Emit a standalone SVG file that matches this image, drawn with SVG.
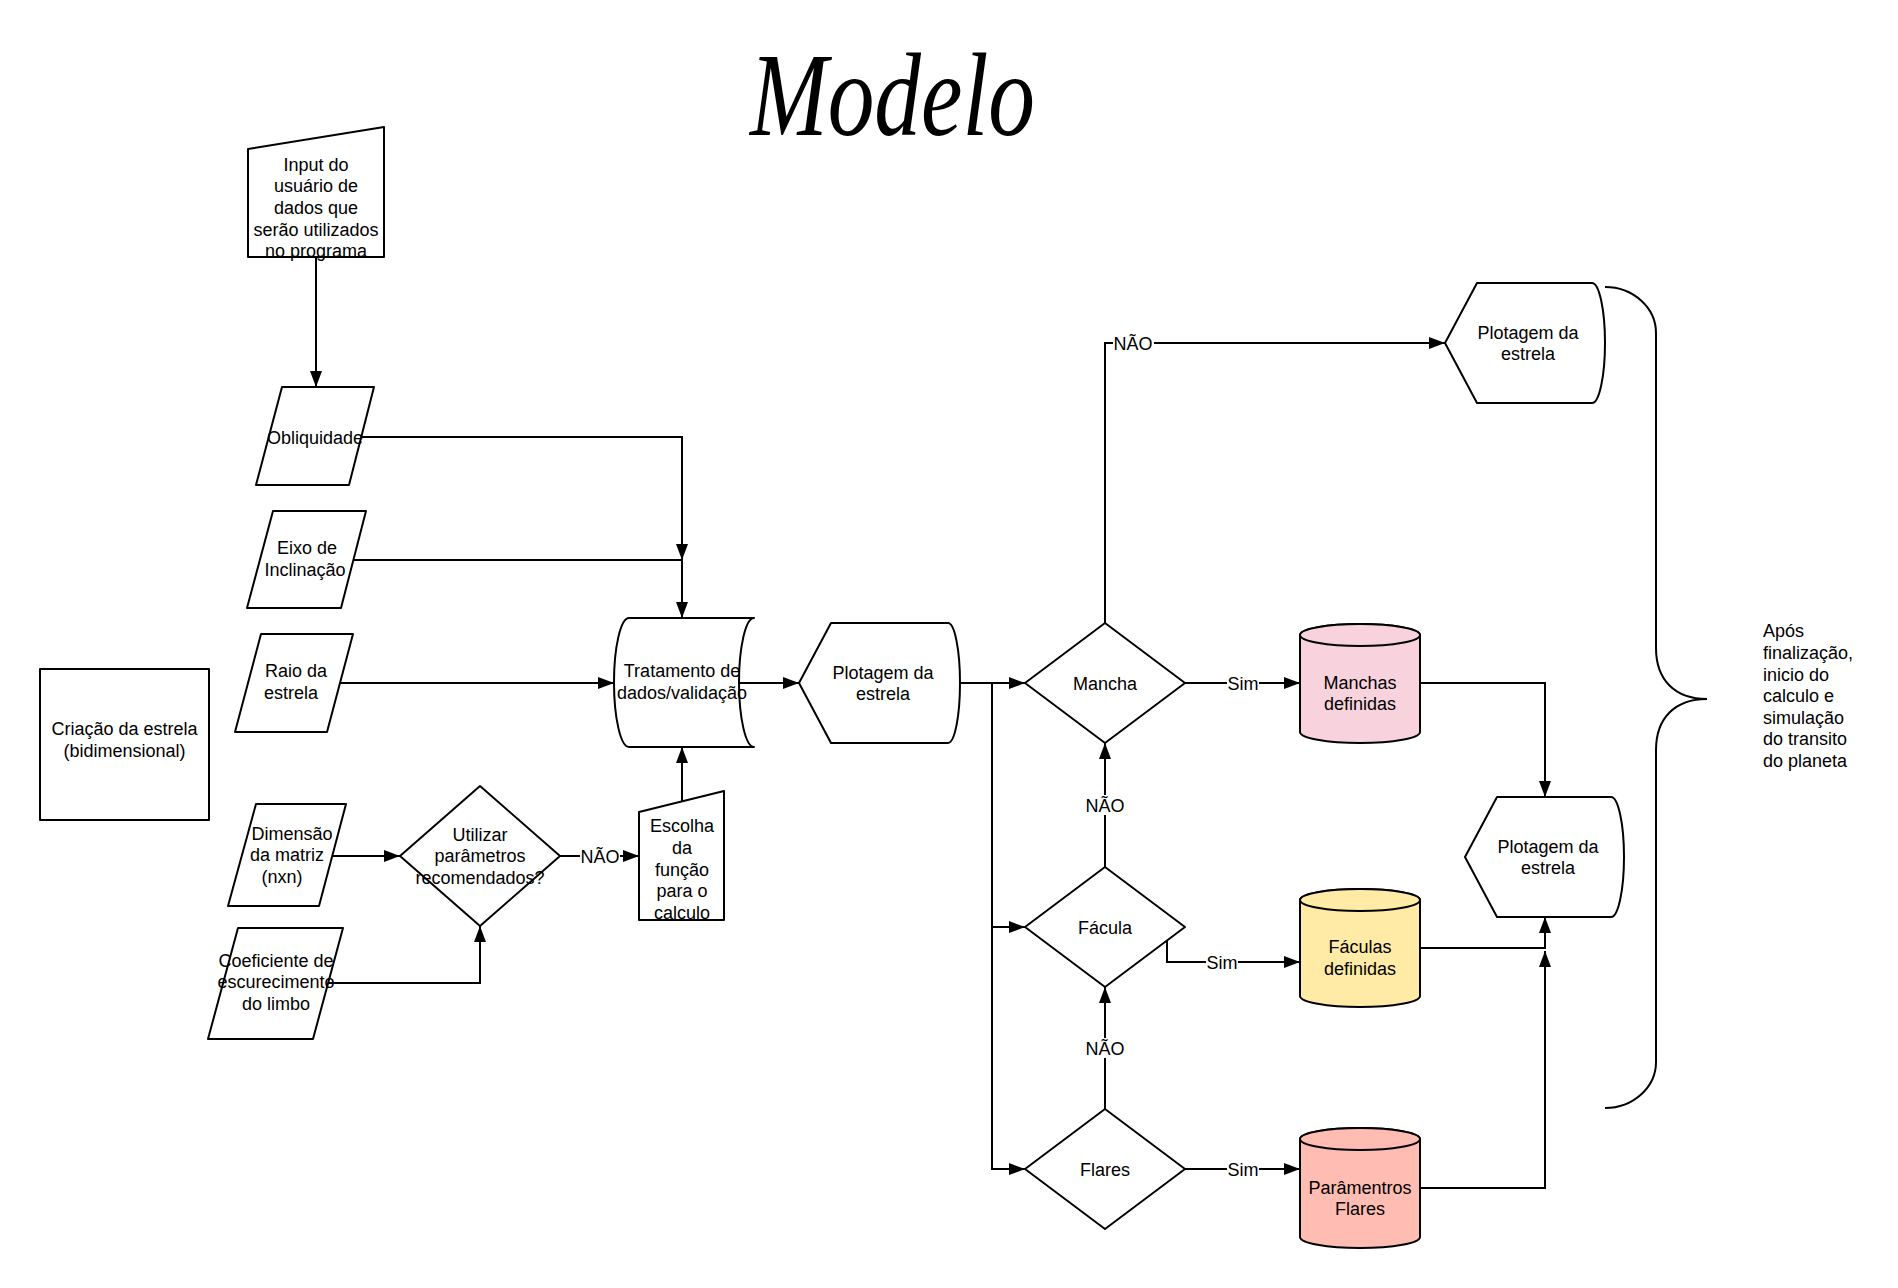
<svg xmlns="http://www.w3.org/2000/svg" width="1898" height="1288" viewBox="0 0 1898 1288">
<style>
.s{fill:#fff;stroke:#000;stroke-width:2;stroke-linejoin:round}
.c{fill:none;stroke:#000;stroke-width:2}
.t{font-family:"Liberation Sans",Arial,sans-serif;font-size:18px;fill:#000;text-anchor:middle}
.tl{font-family:"Liberation Sans",Arial,sans-serif;font-size:18px;fill:#000}
.bg{fill:#fff;stroke:none}
</style>
<defs>
<marker id="arr" markerUnits="userSpaceOnUse" markerWidth="16" markerHeight="12" refX="16" refY="6" orient="auto">
<path d="M0,0 L16,6 L0,12 Z" fill="#000"/>
</marker>
</defs>
<rect width="1898" height="1288" fill="#fff"/>

<g id="title">
<text x="750" y="135" font-family="Liberation Serif, serif" font-style="italic" font-size="118" textLength="285" lengthAdjust="spacingAndGlyphs" fill="#000">Modelo</text>
</g>

<g id="connectors">
<path class="c" d="M316,257 L316,387" marker-end="url(#arr)"/>
<path class="c" d="M361,437 L682,437 L682,560" marker-end="url(#arr)"/>
<path class="c" d="M354,560 L682,560 L682,618" marker-end="url(#arr)"/>
<path class="c" d="M340,683 L614,683" marker-end="url(#arr)"/>
<path class="c" d="M333,856 L400,856" marker-end="url(#arr)"/>
<path class="c" d="M328,983 L480,983 L480,926" marker-end="url(#arr)"/>
<path class="c" d="M560,856 L639,856" marker-end="url(#arr)"/>
<path class="c" d="M682,801 L682,747" marker-end="url(#arr)"/>
<path class="c" d="M739,683 L799,683" marker-end="url(#arr)"/>
<path class="c" d="M960,683 L1025,683" marker-end="url(#arr)"/>
<path class="c" d="M992,683 L992,927 L1025,927" marker-end="url(#arr)"/>
<path class="c" d="M992,927 L992,1169 L1025,1169" marker-end="url(#arr)"/>
<path class="c" d="M1105,623 L1105,343 L1445,343" marker-end="url(#arr)"/>
<path class="c" d="M1105,867 L1105,743" marker-end="url(#arr)"/>
<path class="c" d="M1105,1109 L1105,987" marker-end="url(#arr)"/>
<path class="c" d="M1185,683 L1300,683" marker-end="url(#arr)"/>
<path class="c" d="M1167,940.5 L1167,962 L1300,962" marker-end="url(#arr)"/>
<path class="c" d="M1185,1169 L1300,1169" marker-end="url(#arr)"/>
<path class="c" d="M1420,683 L1545,683 L1545,797" marker-end="url(#arr)"/>
<path class="c" d="M1420,948 L1545,948 L1545,917" marker-end="url(#arr)"/>
<path class="c" d="M1420,1188 L1545,1188 L1545,951" marker-end="url(#arr)"/>
<g id="labels">
<rect class="bg" x="580" y="846" width="40" height="20"/>
<text class="t" x="600" y="862.5">NÃO</text>
<rect class="bg" x="1113" y="333" width="41" height="20"/>
<text class="t" x="1133" y="349.5">NÃO</text>
<rect class="bg" x="1085" y="795" width="40" height="20"/>
<text class="t" x="1105" y="811.5">NÃO</text>
<rect class="bg" x="1085" y="1038" width="40" height="20"/>
<text class="t" x="1105" y="1054.5">NÃO</text>
<rect class="bg" x="1227" y="673" width="32" height="20"/>
<text class="t" x="1243" y="689.5">Sim</text>
<rect class="bg" x="1206" y="952" width="32" height="20"/>
<text class="t" x="1222" y="968.5">Sim</text>
<rect class="bg" x="1227" y="1159" width="32" height="20"/>
<text class="t" x="1243" y="1175.5">Sim</text>
</g>
</g>

<g id="input">
<path class="s" d="M248,149 L384,127 L384,257 L248,257 Z"/>
<text class="t" x="316" y="170.5">Input do</text>
<text class="t" x="316" y="192">usuário de</text>
<text class="t" x="316" y="214">dados que</text>
<text class="t" x="316" y="235.5">serão utilizados</text>
<text class="t" x="316" y="257">no programa</text>
</g>

<g id="obliquidade">
<polygon class="s" points="282,387 374,387 349,485 256,485"/>
<text class="t" x="315" y="443.5">Obliquidade</text>
</g>

<g id="eixo">
<polygon class="s" points="273,511 366,511 341,608 247,608"/>
<text class="t" x="307" y="553.5">Eixo de</text>
<text class="t" x="305" y="575.5">Inclinação</text>
</g>

<g id="raio">
<polygon class="s" points="261,634 353,634 327,732 235,732"/>
<text class="t" x="296" y="676.5">Raio da</text>
<text class="t" x="291" y="698.5">estrela</text>
</g>

<g id="criacao">
<rect class="s" x="40" y="669" width="169" height="151"/>
<text class="t" x="124.5" y="734.5">Criação da estrela</text>
<text class="t" x="124.5" y="756.5">(bidimensional)</text>
</g>

<g id="dimensao">
<polygon class="s" points="256,804 346,804 319,906 228,906"/>
<text class="t" x="292" y="839.5">Dimensão</text>
<text class="t" x="287" y="860.5">da matriz</text>
<text class="t" x="282" y="882.5">(nxn)</text>
</g>

<g id="coeficiente">
<polygon class="s" points="238,928 343,928 313,1039 208,1039"/>
<text class="t" x="276" y="966.5">Coeficiente de</text>
<text class="t" x="276" y="988">escurecimento</text>
<text class="t" x="276" y="1010">do limbo</text>
</g>

<g id="utilizar">
<polygon class="s" points="480,786 560,856 480,926 400,856"/>
<text class="t" x="480" y="840.5">Utilizar</text>
<text class="t" x="480" y="862">parâmetros</text>
<text class="t" x="480" y="884">recomendados?</text>
</g>

<g id="escolha">
<path class="s" d="M639,812 L724,791 L724,920 L639,920 Z"/>
<text class="t" x="682" y="832">Escolha</text>
<text class="t" x="682" y="854">da</text>
<text class="t" x="682" y="875.5">função</text>
<text class="t" x="682" y="897">para o</text>
<text class="t" x="682" y="919">calculo</text>
</g>

<g id="tratamento">
<path class="s" d="M629,618 L754,618 A15 64.5 0 0 0 754,747 L629,747 A15 64.5 0 0 1 629,618 Z"/>
<text class="t" x="682" y="676.5">Tratamento de</text>
<text class="t" x="682" y="698.5">dados/validação</text>
</g>

<g id="plotagem1">
<path class="s" d="M799,683 L831,623 L948,623 A12 60 0 0 1 948,743 L831,743 Z"/>
<text class="t" x="883" y="678.5">Plotagem da</text>
<text class="t" x="883" y="699.5">estrela</text>
</g>

<g id="mancha">
<polygon class="s" points="1105,623 1185,683 1105,743 1025,683"/>
<text class="t" x="1105" y="689.5">Mancha</text>
</g>

<g id="facula">
<polygon class="s" points="1105,867 1185,927 1105,987 1025,927"/>
<text class="t" x="1105" y="933.5">Fácula</text>
</g>

<g id="flares">
<polygon class="s" points="1105,1109 1185,1169 1105,1229 1025,1169"/>
<text class="t" x="1105" y="1175.5">Flares</text>
</g>

<g id="manchas-definidas">
<path class="s" style="fill:#F8D3DD" d="M1300,635 L1300,732 A60 11 0 0 0 1420,732 L1420,635 A60 11 0 0 0 1300,635 Z"/>
<ellipse class="s" style="fill:#F8D3DD" cx="1360" cy="635" rx="60" ry="11"/>
<text class="t" x="1360" y="688.5">Manchas</text>
<text class="t" x="1360" y="709.5">definidas</text>
</g>

<g id="faculas-definidas">
<path class="s" style="fill:#FFEBA6" d="M1300,900 L1300,996 A60 11 0 0 0 1420,996 L1420,900 A60 11 0 0 0 1300,900 Z"/>
<ellipse class="s" style="fill:#FFEBA6" cx="1360" cy="900" rx="60" ry="11"/>
<text class="t" x="1360" y="953">Fáculas</text>
<text class="t" x="1360" y="975">definidas</text>
</g>

<g id="parametros-flares">
<path class="s" style="fill:#FFBCB2" d="M1300,1139 L1300,1237 A60 11 0 0 0 1420,1237 L1420,1139 A60 11 0 0 0 1300,1139 Z"/>
<ellipse class="s" style="fill:#FFBCB2" cx="1360" cy="1139" rx="60" ry="11"/>
<text class="t" x="1360" y="1193.5">Parâmentros</text>
<text class="t" x="1360" y="1214.5">Flares</text>
</g>

<g id="plotagem2">
<path class="s" d="M1445,343 L1477,283 L1592,283 A13 60 0 0 1 1592,403 L1477,403 Z"/>
<text class="t" x="1528" y="338.5">Plotagem da</text>
<text class="t" x="1528" y="359.5">estrela</text>
</g>

<g id="plotagem3">
<path class="s" d="M1465,857 L1497,797 L1611,797 A13 60 0 0 1 1611,917 L1497,917 Z"/>
<text class="t" x="1548" y="852.5">Plotagem da</text>
<text class="t" x="1548" y="873.5">estrela</text>
</g>

<g id="brace">
<path class="c" d="M1605,287 A51 46 0 0 1 1656,333 L1656,648 C1656,680 1675,699 1707,699 C1675,699 1656,718 1656,750 L1656,1062 A51 46 0 0 1 1605,1108"/>
</g>

<g id="nota">
<text class="tl" x="1763" y="637">Após</text>
<text class="tl" x="1763" y="659">finalização,</text>
<text class="tl" x="1763" y="680.5">inicio do</text>
<text class="tl" x="1763" y="702">calculo e</text>
<text class="tl" x="1763" y="723.5">simulação</text>
<text class="tl" x="1763" y="745">do transito</text>
<text class="tl" x="1763" y="766.5">do planeta</text>
</g>
</svg>
